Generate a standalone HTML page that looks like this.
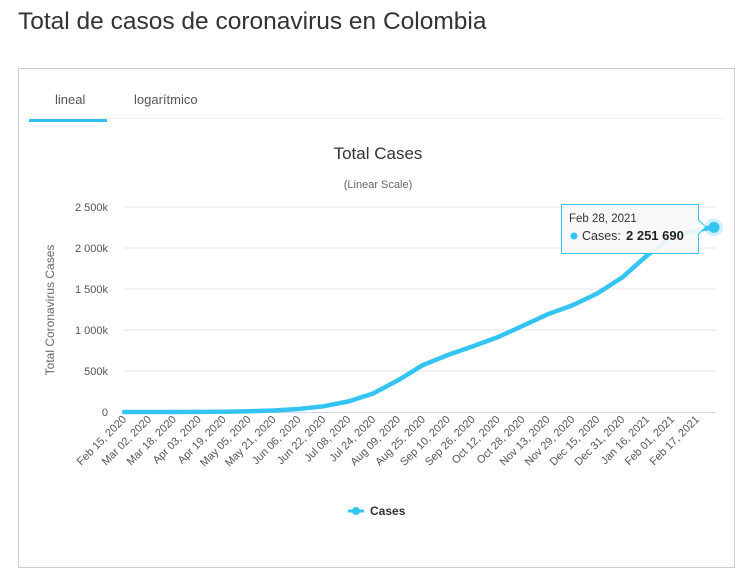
<!DOCTYPE html>
<html><head><meta charset="utf-8">
<style>
body{margin:0;width:750px;height:579px;background:#fff;font-family:"Liberation Sans",sans-serif;overflow:hidden;position:relative}
#title{position:absolute;left:18px;top:8px;font-size:24.5px;color:#333;white-space:nowrap}
#card{position:absolute;left:18px;top:68px;width:717px;height:500px;border:1px solid #ccc;box-sizing:border-box}
.tab{position:absolute;top:23px;font-size:13px;color:#555}
</style></head><body>
<div id="title">Total de casos de coronavirus en Colombia</div>
<div id="card">
  <div class="tab" style="left:36px">lineal</div>
  <div class="tab" style="left:115px">logarítmico</div>
  <div style="position:absolute;left:10px;right:10px;top:49px;height:1px;background:#eee"></div>
  <div style="position:absolute;left:10px;width:78px;top:50px;height:3px;background:#2fc0f0"></div>
</div>
<svg id="chart" width="750" height="579" style="position:absolute;left:0;top:0" font-family="Liberation Sans, DejaVu Sans, sans-serif"></svg>
<script>
const dateLabels=["Feb 15, 2020","Mar 02, 2020","Mar 18, 2020","Apr 03, 2020","Apr 19, 2020","May 05, 2020","May 21, 2020","Jun 06, 2020","Jun 22, 2020","Jul 08, 2020","Jul 24, 2020","Aug 09, 2020","Aug 25, 2020","Sep 10, 2020","Sep 26, 2020","Oct 12, 2020","Oct 28, 2020","Nov 13, 2020","Nov 29, 2020","Dec 15, 2020","Dec 31, 2020","Jan 16, 2021","Feb 01, 2021","Feb 17, 2021"];
const dataDays=[0,16,32,48,64,80,96,112,128,144,160,176,192,208,224,240,256,272,288,304,320,336,352,368,379];
const cases=[0,0,100,1000,4000,9000,18000,37000,70000,128000,226000,387000,572000,695000,800000,911000,1050000,1190000,1300000,1445000,1640000,1910000,2140000,2220000,2251690];
const yTicks=[0,500000,1000000,1500000,2000000,2500000];
const yTickLabels=["0","500k","1 000k","1 500k","2 000k","2 500k"];
const svg=document.getElementById('chart');const NS='http://www.w3.org/2000/svg';
function mk(t,a,txt){const e=document.createElementNS(NS,t);for(const k in a)e.setAttribute(k,a[k]);if(txt!==undefined)e.textContent=txt;svg.appendChild(e);return e;}
const x=d=>124+d*(590/379);
const y=v=>412-v*(205/2500000);
let e;
e=mk('text',{x:378,y:159,'text-anchor':'middle','font-size':17,fill:'#333'},'Total Cases');


e=mk('text',{x:378,y:188,'text-anchor':'middle','font-size':11,fill:'#666'},'(Linear Scale)');


yTicks.forEach((v,i)=>{
  if(i>0){e=mk('line',{x1:124,x2:716,y1:y(v),y2:y(v),stroke:'#e6e6e6','stroke-width':1});
  
  }
  e=mk('text',{x:108,y:y(v)+4,'text-anchor':'end','font-size':11,fill:'#555'},yTickLabels[i]);
  
  
});
e=mk('line',{x1:124,x2:716,y1:412.5,y2:412.5,stroke:'#ccd6eb','stroke-width':1});


e=mk('text',{x:0,y:0,'text-anchor':'middle','font-size':12,fill:'#666',transform:'translate(54,310) rotate(-90)'},'Total Coronavirus Cases');


dateLabels.forEach((l,i)=>{
  const xx=x(i*16)+3;
  e=mk('text',{x:0,y:0,'text-anchor':'end','font-size':11,fill:'#555',transform:`translate(${xx},${420}) rotate(-45)`},l);
  
  
});
const pts=dataDays.map((d,i)=>x(d).toFixed(1)+','+y(cases[i]).toFixed(1)).join(' ');
e=mk('polyline',{points:pts,fill:'none',stroke:'#33c4f2','stroke-width':4.5,'stroke-linejoin':'round','stroke-linecap':'round'});


const lx=x(dataDays[dataDays.length-1]),ly=y(cases[cases.length-1]);
e=mk('circle',{cx:lx,cy:ly,r:9,fill:'#33c4f2','fill-opacity':0.25});


e=mk('circle',{cx:lx,cy:ly,r:5.5,fill:'#33c4f2'});


e=mk('path',{d:`M561.5,204.5 H698.5 V220 L706,227 L698.5,234 V253.5 H561.5 Z`,fill:'#f7f7f7','fill-opacity':0.92,stroke:'#33c4f2','stroke-width':1});


e=mk('text',{x:569,y:222,'font-size':11.5,fill:'#333'},'Feb 28, 2021');


e=mk('circle',{cx:574,cy:236,r:3.5,fill:'#33c4f2'});


e=mk('text',{x:582,y:240,'font-size':12.5,fill:'#333'},'Cases: ');


e=mk('text',{x:626,y:240,'font-size':13,'font-weight':'bold',fill:'#222'},'2 251 690');


e=mk('line',{x1:348,x2:364,y1:511,y2:511,stroke:'#33c4f2','stroke-width':3});


e=mk('circle',{cx:356,cy:511,r:4,fill:'#33c4f2'});


e=mk('text',{x:370,y:515,'font-size':12,'font-weight':'bold',fill:'#333'},'Cases');


</script>
</body></html>
